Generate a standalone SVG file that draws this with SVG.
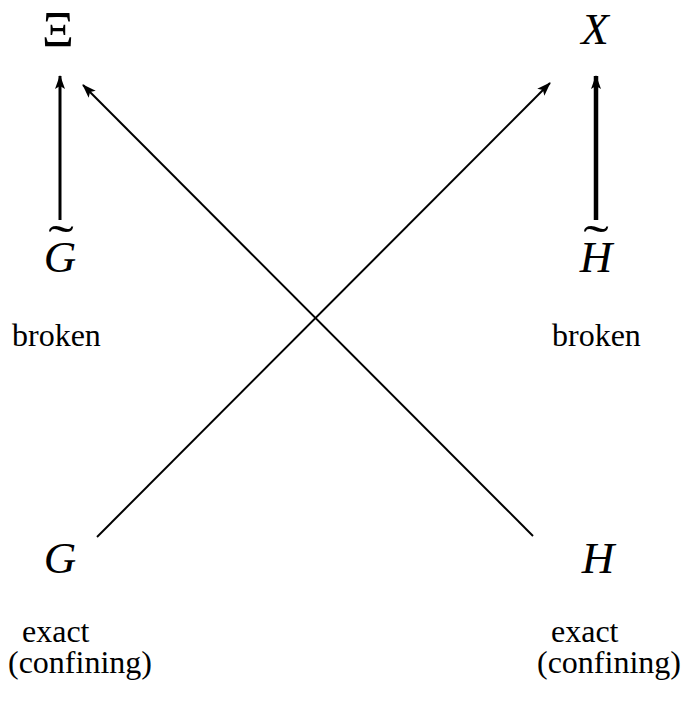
<svg xmlns="http://www.w3.org/2000/svg" width="684" height="702" viewBox="0 0 684 702">
<style>
text{font-family:'Liberation Serif','Times New Roman',serif;fill:#000}
.m{font-style:italic;font-size:45px;text-anchor:middle}
.u{font-size:45px;text-anchor:middle}
.t{font-size:32px}
.tl{font-size:48px;text-anchor:middle}
.c{stroke:#000;fill:none}
</style>
<defs>
<marker id="ah" viewBox="0 0 14 10" refX="13" refY="5" markerWidth="14" markerHeight="10" markerUnits="userSpaceOnUse" orient="auto">
<path d="M0,0 L14,5 L0,10 L3,5 Z" fill="#000"/>
</marker>
</defs>
<g id="connectors">
<line class="c" x1="60" y1="220" x2="60" y2="76" stroke-width="3" marker-end="url(#ah)"/>
<line class="c" x1="596" y1="220" x2="596" y2="76" stroke-width="4.5" marker-end="url(#ah)"/>
<line class="c" x1="97" y1="537" x2="550" y2="83" stroke-width="2" marker-end="url(#ah)"/>
<line class="c" x1="533" y1="536" x2="83" y2="85" stroke-width="2" marker-end="url(#ah)"/>
</g>
<g id="Xi"><text class="u" transform="translate(58,46) scale(1.1,1.15)" x="0" y="0">Ξ</text></g>
<g id="X"><text class="m" x="595" y="44">X</text></g>
<g id="Gtilde">
<text class="tl" transform="translate(61,259) scale(1.6,1)" x="0" y="0">˜</text>
<text class="m" x="60" y="272">G</text>
<text class="t" x="12" y="346">broken</text>
</g>
<g id="Htilde">
<text class="tl" transform="translate(596,259) scale(1.6,1)" x="0" y="0">˜</text>
<text class="m" x="596" y="272">H</text>
<text class="t" x="552" y="346">broken</text>
</g>
<g id="G">
<text class="m" x="60" y="573">G</text>
<text class="t" x="22" y="642">exact</text>
<text class="t" x="8" y="673">(confining)</text>
</g>
<g id="H">
<text class="m" x="598" y="573">H</text>
<text class="t" x="551" y="642">exact</text>
<text class="t" x="537" y="673">(confining)</text>
</g>
</svg>
